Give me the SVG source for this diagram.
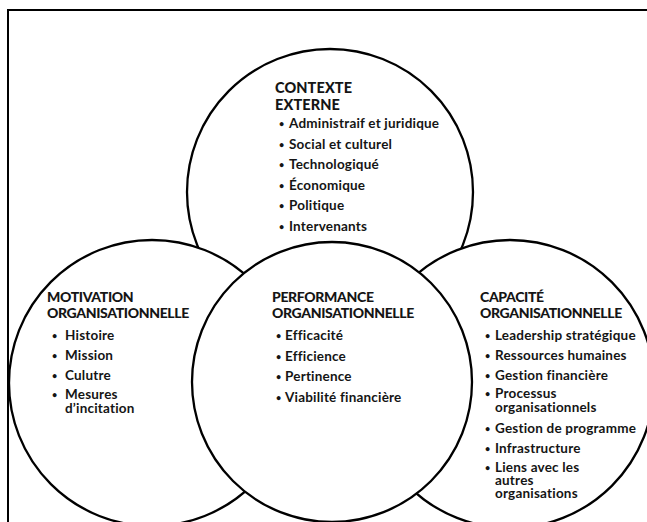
<svg xmlns="http://www.w3.org/2000/svg" width="647" height="522" viewBox="0 0 647 522">
<style>
.c{fill:#fff;stroke:#000;stroke-width:2.3}
.t{font-family:Lato,"Open Sans","Liberation Sans",sans-serif;font-weight:900;font-size:14px;letter-spacing:-0.35px;fill:#151515}
.t2{font-family:Lato,"Open Sans","Liberation Sans",sans-serif;font-weight:900;font-size:14.5px;letter-spacing:0.1px;fill:#151515}
.b{font-family:Lato,"Open Sans","Liberation Sans",sans-serif;font-weight:700;font-size:13.5px;letter-spacing:0.2px;fill:#151515}
.d{font-size:9px}
</style>
<rect x="0" y="0" width="647" height="522" fill="#fff"/>
<rect x="8" y="10" width="700" height="600" fill="#fff" stroke="#000" stroke-width="2"/>
<g id="connectors"/>
<g id="contexte-externe">
<circle class="c" cx="330" cy="192" r="143"/>
<text class="t2"><tspan x="275" y="93">CONTEXTE</tspan><tspan x="275" y="110">EXTERNE</tspan></text>
<text class="b"><tspan class="d" x="279" y="127">•</tspan><tspan x="289" y="128">Administraif et juridique</tspan></text>
<text class="b"><tspan class="d" x="279" y="147.5">•</tspan><tspan x="289" y="148.5">Social et culturel</tspan></text>
<text class="b"><tspan class="d" x="279" y="168">•</tspan><tspan x="289" y="169">Technologiqué</tspan></text>
<text class="b"><tspan class="d" x="279" y="188.5">•</tspan><tspan x="289" y="189.5">Économique</tspan></text>
<text class="b"><tspan class="d" x="279" y="209">•</tspan><tspan x="289" y="210">Politique</tspan></text>
<text class="b"><tspan class="d" x="279" y="229.5">•</tspan><tspan x="289" y="230.5">Intervenants</tspan></text>
</g>
<g id="motivation-organisationnelle">
<circle class="c" cx="152" cy="383" r="143"/>
<text class="t"><tspan x="47" y="302">MOTIVATION</tspan><tspan x="47" y="318">ORGANISATIONNELLE</tspan></text>
<text class="b"><tspan class="d" x="52" y="339">•</tspan><tspan x="65" y="340">Histoire</tspan></text>
<text class="b"><tspan class="d" x="52" y="359">•</tspan><tspan x="65" y="360">Mission</tspan></text>
<text class="b"><tspan class="d" x="52" y="379">•</tspan><tspan x="65" y="380">Culutre</tspan></text>
<text class="b"><tspan class="d" x="52" y="398">•</tspan><tspan x="65" y="399">Mesures</tspan><tspan x="65" y="412.5">d’incitation</tspan></text>
</g>
<g id="capacite-organisationnelle">
<circle class="c" cx="510" cy="384" r="144"/>
<text class="t"><tspan x="480" y="302">CAPACITÉ</tspan><tspan x="480" y="318">ORGANISATIONNELLE</tspan></text>
<text class="b"><tspan class="d" x="485" y="339">•</tspan><tspan x="495" y="340">Leadership stratégique</tspan></text>
<text class="b"><tspan class="d" x="485" y="359">•</tspan><tspan x="495" y="360">Ressources humaines</tspan></text>
<text class="b"><tspan class="d" x="485" y="379">•</tspan><tspan x="495" y="380">Gestion financière</tspan></text>
<text class="b"><tspan class="d" x="485" y="397">•</tspan><tspan x="495" y="398">Processus</tspan><tspan x="495" y="411.5">organisationnels</tspan></text>
<text class="b"><tspan class="d" x="485" y="432">•</tspan><tspan x="495" y="433">Gestion de programme</tspan></text>
<text class="b"><tspan class="d" x="485" y="452">•</tspan><tspan x="495" y="453">Infrastructure</tspan></text>
<text class="b"><tspan class="d" x="485" y="471">•</tspan><tspan x="495" y="472">Liens avec les</tspan><tspan x="495" y="485">autres</tspan><tspan x="495" y="498">organisations</tspan></text>
</g>
<g id="performance-organisationnelle">
<circle class="c" cx="332" cy="382" r="140"/>
<text class="t"><tspan x="272" y="302">PERFORMANCE</tspan><tspan x="272" y="318">ORGANISATIONNELLE</tspan></text>
<text class="b"><tspan class="d" x="276" y="339">•</tspan><tspan x="285" y="340">Efficacité</tspan></text>
<text class="b"><tspan class="d" x="276" y="359.5">•</tspan><tspan x="285" y="360.5">Efficience</tspan></text>
<text class="b"><tspan class="d" x="276" y="380">•</tspan><tspan x="285" y="381">Pertinence</tspan></text>
<text class="b"><tspan class="d" x="276" y="400.5">•</tspan><tspan x="285" y="401.5">Viabilité financière</tspan></text>
</g>
</svg>
